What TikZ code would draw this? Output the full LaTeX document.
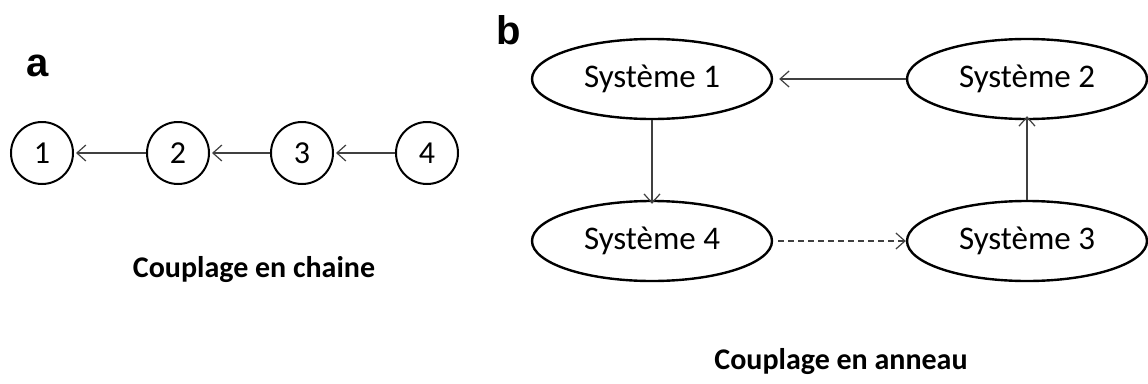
\documentclass[tikz,border=0pt]{standalone}
\usepackage{fontspec}
\setmainfont{Carlito}
\newfontfamily\labelfont{Liberation Sans}
\usetikzlibrary{arrows.meta,shapes.geometric}
\begin{document}
\begin{tikzpicture}[x=1pt,y=-1pt,
  numnode/.style={circle,draw=black,line width=2pt,minimum size=62pt,inner sep=0pt,font=\fontsize{32}{36}\selectfont},
  sysnode/.style={ellipse,draw=black,line width=2.4pt,minimum width=240pt,minimum height=80pt,inner sep=0pt,font=\fontsize{33}{38}\selectfont},
  link/.style={draw=black!75,line width=1.2pt,-{Straight Barb[length=9pt,width=16pt,line width=1.2pt]}},
  caption/.style={font=\bfseries\fontsize{30}{34}\selectfont},
  panel/.style={font=\labelfont\bfseries\fontsize{40}{44}\selectfont}]
\useasboundingbox (0,0) rectangle (1148,383);
% panel a
\node[panel] (la) at (38,66) {a};
\node[numnode] (c1) at (42,153) {1};
\node[numnode] (c2) at (178,153) {2};
\node[numnode] (c3) at (302,153) {3};
\node[numnode] (c4) at (427,153) {4};
\draw[link] (c2) -- ([xshift=2pt]c1.east);
\draw[link] (c3) -- ([xshift=2pt]c2.east);
\draw[link] (c4) -- ([xshift=2pt]c3.east);
\node[caption] (capa) at (254,270) {Couplage en chaine};
% panel b
\node[panel] (lb) at (509,30) {b};
\node[sysnode] (s1) at (652,79) {Syst\`eme 1};
\node[sysnode] (s2) at (1027,79) {Syst\`eme 2};
\node[sysnode] (s4) at (652,241) {Syst\`eme 4};
\node[sysnode] (s3) at (1027,241) {Syst\`eme 3};
\draw[link] (s2.west) -- ([xshift=6pt]s1.east);
\draw[link] (s1.south) -- ([yshift=-4pt]s4.north);
\draw[link] (s3.north) -- ([yshift=4pt]s2.south);
\draw[link,dash pattern=on 6pt off 4pt] ([xshift=5pt]s4.east) -- (s3.west);
\node[caption] (capb) at (841,362) {Couplage en anneau};
\end{tikzpicture}
\end{document}
